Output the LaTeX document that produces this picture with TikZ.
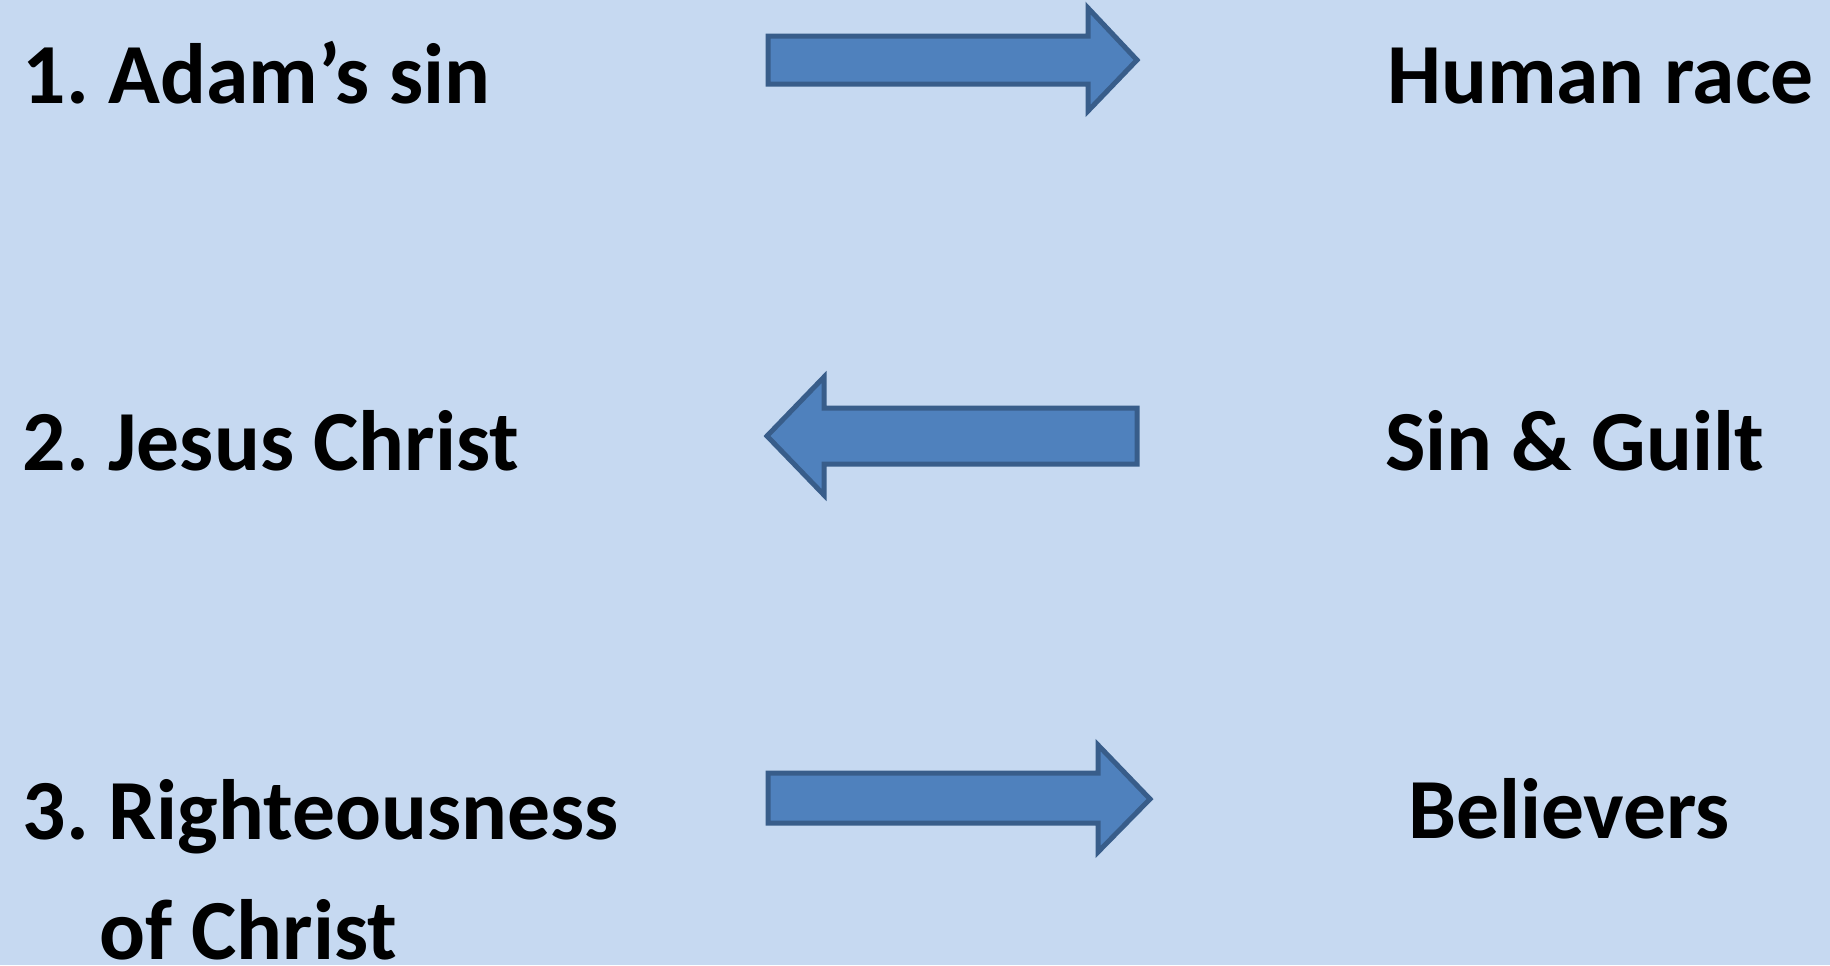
\documentclass[tikz,border=0pt]{standalone}
\usepackage{fontspec}
\setmainfont{Carlito}
\frenchspacing
\definecolor{bgblue}{HTML}{C6D9F1}
\definecolor{arrfill}{HTML}{4F81BD}
\definecolor{arrline}{HTML}{385D8A}
\begin{document}
\begin{tikzpicture}[x=0.5pt,y=-0.5pt,
  lbl/.style={anchor=base west,inner sep=0pt,outer sep=0pt,font=\fontsize{42.8}{60}\selectfont\bfseries,text=black},
  blockarrow/.style={fill=arrfill,draw=arrline,line width=2.5pt,line join=miter}]
\fill[bgblue] (0,0) rectangle (1830,965);
\useasboundingbox (0,0) rectangle (1830,965);
% left labels
\node[lbl] (adam) at (23,103) {1. Adam’s sin};
\node[lbl] (jesus) at (23,470) {2. Jesus Christ};
\node[lbl,align=left] (right) at (23,959) {3. Righteousness\\\hspace*{38pt}of Christ};
% right labels
\node[lbl] (human) at (1387,103) {Human race};
\node[lbl] (sin) at (1385,470) {Sin \& Guilt};
\node[lbl] (belv) at (1408,838) {Believers};
% arrows
\draw[blockarrow] (768,36) -- (1088,36) -- (1088,8) -- (1137,60) -- (1088,111) -- (1088,84) -- (768,84) -- cycle;
\draw[blockarrow] (1137,408) -- (824,408) -- (824,377) -- (767,436) -- (824,495) -- (824,464) -- (1137,464) -- cycle;
\draw[blockarrow] (768,773) -- (1098,773) -- (1098,745) -- (1150,799) -- (1098,852) -- (1098,823) -- (768,823) -- cycle;
\end{tikzpicture}
\end{document}
